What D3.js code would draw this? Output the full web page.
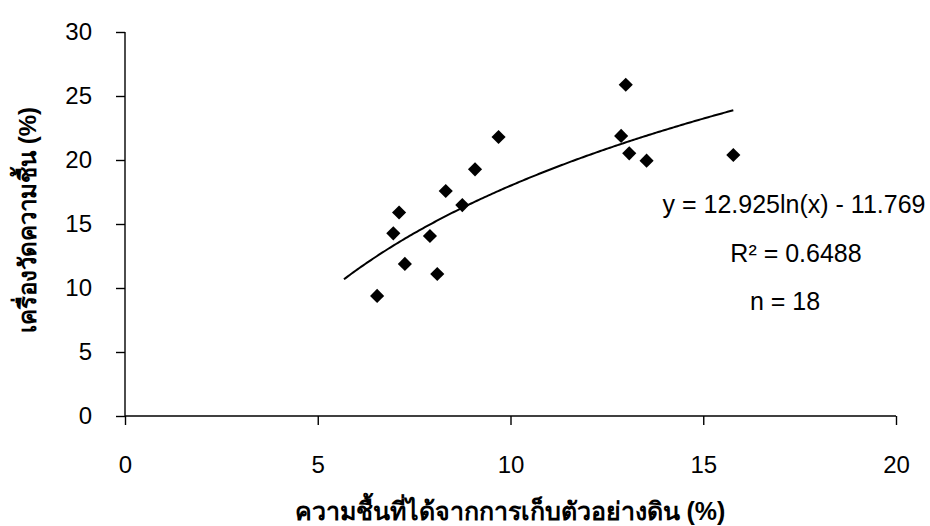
<!DOCTYPE html>
<html>
<head>
<meta charset="utf-8">
<script src="https://cdn.jsdelivr.net/npm/d3@7"></script>
<style>
  body { margin: 0; background: #fff; }
  svg text { font-family: "Liberation Sans", Arial, sans-serif; fill: #000; }
</style>
</head>
<body>
<svg id="chart" width="930" height="526"></svg>
<script>
// ข้อมูลจุด (ความชื้นจากตัวอย่างดิน, ค่าจากเครื่องวัด)
const soilMoisture = [6.54, 6.96, 7.11, 7.26, 7.91, 8.10, 8.32, 8.75, 9.08, 9.69, 12.87, 12.99, 13.08, 13.53, 15.78];
const meterMoisture = [9.38, 14.27, 15.9, 11.88, 14.06, 11.09, 17.58, 16.48, 19.27, 21.8, 21.88, 25.88, 20.52, 19.95, 20.39];
const xTicks = [0, 5, 10, 15, 20];
const yTicks = [0, 5, 10, 15, 20, 25, 30];
// เส้นแนวโน้ม y = a ln(x) + b
const trendA = 12.925;
const trendB = -11.769;
const trendRange = [5.68, 15.8];
const labels = ['y = 12.925ln(x) - 11.769', 'R\u00b2 = 0.6488', 'n = 18'];
const xTitle = 'ความชื้นที่ได้จากการเก็บตัวอย่างดิน (%)';
const yTitle = 'เครื่องวัดความชื้น (%)';

const svg = d3.select('#chart');
const x = d3.scaleLinear().domain([0, 20]).range([125, 896]);
const y = d3.scaleLinear().domain([0, 30]).range([416, 32]);

// แกน X
const xAxis = svg.append('g')
    .attr('transform', `translate(0,${y(0)})`)
    .call(d3.axisBottom(x).tickValues(xTicks).tickSize(9).tickPadding(31).tickFormat(d3.format('d')));
// แกน Y
const yAxis = svg.append('g')
    .attr('transform', `translate(${x(0)},0)`)
    .call(d3.axisLeft(y).tickValues(yTicks).tickSize(9).tickPadding(24).tickFormat(d3.format('d')));

[xAxis, yAxis].forEach(g => {
    g.select('.domain').attr('stroke', '#000').attr('stroke-width', 1.4);
    g.selectAll('.tick line').attr('stroke', '#000').attr('stroke-width', 1.4);
    g.selectAll('.tick text').attr('font-size', 24).attr('font-family', '"Liberation Sans", Arial, sans-serif');
});
// ลบ offset ครึ่งพิกเซลของ d3 domain path
xAxis.select('.domain').attr('d', `M${x(0)},0H${x(20)}`);
yAxis.select('.domain').attr('d', `M0,${y(0)}V${y(30)}`);

// เส้นแนวโน้ม
const trendPts = d3.range(trendRange[0], trendRange[1] + 0.001, 0.05).map(v => [v, trendA * Math.log(v) + trendB]);
svg.append('path')
    .datum(trendPts)
    .attr('fill', 'none')
    .attr('stroke', '#000')
    .attr('stroke-width', 2)
    .attr('d', d3.line().x(d => x(d[0])).y(d => y(d[1])));

// จุดข้อมูล (รูปข้าวหลามตัด)
const diamond = d3.symbol().type(d3.symbolSquare).size(100);
svg.append('g')
    .selectAll('path')
    .data(soilMoisture.map((v, i) => [v, meterMoisture[i]]))
    .join('path')
    .attr('d', diamond)
    .attr('fill', '#000')
    .attr('transform', d => `translate(${x(d[0])},${y(d[1])}) rotate(45)`);

// สมการ
const labelX = [794, 796, 785];
svg.append('g')
    .selectAll('text')
    .data(labels)
    .join('text')
    .attr('x', (d, i) => labelX[i])
    .attr('y', (d, i) => 213 + i * 48.5)
    .attr('text-anchor', 'middle')
    .attr('font-size', 25)
    .text(d => d);

// ชื่อแกน
svg.append('text')
    .attr('x', 510)
    .attr('y', 520)
    .attr('text-anchor', 'middle')
    .attr('font-size', 25)
    .attr('font-weight', 'bold')
    .text(xTitle);

svg.append('text')
    .attr('transform', 'translate(36,220) rotate(-90)')
    .attr('text-anchor', 'middle')
    .attr('font-size', 24)
    .attr('font-weight', 'bold')
    .text(yTitle);
</script>
</body>
</html>
